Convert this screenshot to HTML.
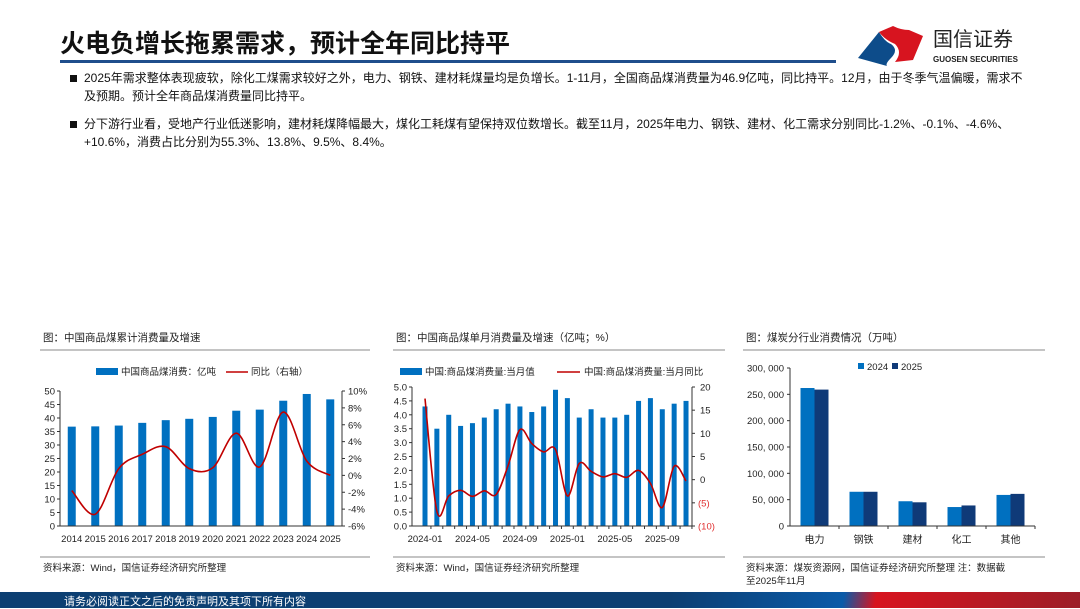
<!DOCTYPE html>
<html><head><meta charset="utf-8">
<style>
body{margin:0;width:1080px;height:608px;overflow:hidden;background:#fff;font-family:"Liberation Sans","Noto Sans CJK SC",sans-serif;}
svg text{font-family:"Liberation Sans","Noto Sans CJK SC",sans-serif;}
.p{position:absolute;left:84px;font-size:12px;line-height:18px;color:#111;width:950px;}
.b{position:absolute;left:70px;width:7px;height:7px;background:#111;}
</style></head><body>
<div style="position:relative;width:1080px;height:608px">
<div style="position:absolute;left:60px;top:24px;font-size:25px;font-weight:bold;color:#111;font-family:'Liberation Sans','Noto Sans CJK SC',sans-serif">火电负增长拖累需求，预计全年同比持平</div>
<div style="position:absolute;left:60px;top:60px;width:776px;height:3px;background:#1f4e8c"></div>
<svg style="position:absolute;left:855px;top:22px" width="180" height="46">
<path d="M3 36 L24 10 Q30 20 36 22 Q44 28 36 36 Q30 42 32 44 Z" fill="#0d4c8a"/>
<path d="M24 10 L38 4 Q46 8 54 8 L68 14 L58 38 L40 40 Q48 30 40 22 Q30 18 24 10Z" fill="#d7141f"/>
<text x="78" y="24" font-size="20" fill="#222">国信证券</text>
<text x="78" y="40" font-size="8" font-weight="bold" fill="#222">GUOSEN SECURITIES</text>
</svg>
<div class="b" style="top:75px"></div>
<div class="p" style="top:69px">2025年需求整体表现疲软，除化工煤需求较好之外，电力、钢铁、建材耗煤量均是负增长。1-11月，全国商品煤消费量为46.9亿吨，同比持平。12月，由于冬季气温偏暖，需求不及预期。预计全年商品煤消费量同比持平。</div>
<div class="b" style="top:121px"></div>
<div class="p" style="top:115px">分下游行业看，受地产行业低迷影响，建材耗煤降幅最大，煤化工耗煤有望保持双位数增长。截至11月，2025年电力、钢铁、建材、化工需求分别同比-1.2%、-0.1%、-4.6%、+10.6%，消费占比分别为55.3%、13.8%、9.5%、8.4%。</div>
<svg id="c" width="1080" height="608" style="position:absolute;left:0;top:0"></svg>
<div style="position:absolute;left:0;top:592px;width:1080px;height:16px;background:linear-gradient(100deg,#0c3f72 0%,#0c3f72 62%,#0a5aa8 78%,#d7141f 81%,#9c1e28 100%)"></div>
<div style="position:absolute;left:64px;top:593px;font-size:11px;color:#fff">请务必阅读正文之后的免责声明及其项下所有内容</div>
</div>
<script>
const years=['2014','2015','2016','2017','2018','2019','2020','2021','2022','2023','2024','2025'];
const annualVol=[36.8,36.9,37.2,38.2,39.2,39.7,40.4,42.7,43.1,46.4,48.9,46.9];
const annualYoy=[-1.8,-4.6,0.8,2.5,3.4,0.8,0.9,5.0,1.0,7.5,1.7,0.0];
const months=['2024-01','2024-02','2024-03','2024-04','2024-05','2024-06','2024-07','2024-08','2024-09','2024-10','2024-11','2024-12','2025-01','2025-02','2025-03','2025-04','2025-05','2025-06','2025-07','2025-08','2025-09','2025-10','2025-11'];
const monthVol=[4.3,3.5,4.0,3.6,3.7,3.9,4.2,4.4,4.3,4.1,4.3,4.9,4.6,3.9,4.2,3.9,3.9,4.0,4.5,4.6,4.2,4.4,4.5];
const monthYoy=[17.5,-6.8,-3.5,-2.3,-3.6,-2.4,-3.2,3.0,10.8,7.8,6.0,6.5,-3.5,3.5,1.8,0.6,1.3,0.5,2.0,-0.8,-6.0,2.9,-0.3];
const sectors=['电力','钢铁','建材','化工','其他'];
const sec2024=[262000,65000,47000,36000,59000];
const sec2025=[259000,65000,45000,39000,61000];
const leftTicks1=[0,5,10,15,20,25,30,35,40,45,50];
const rightTicks1=[-6,-4,-2,0,2,4,6,8,10];
const leftTicks2=[0,0.5,1,1.5,2,2.5,3,3.5,4,4.5,5];
const rightTicks2=[-10,-5,0,5,10,15,20];
const ticks3=[0,50000,100000,150000,200000,250000,300000];

const S=document.getElementById('c');const NS='http://www.w3.org/2000/svg';
function el(t,a,txt){const e=document.createElementNS(NS,t);for(const k in a)e.setAttribute(k,a[k]);if(txt!==undefined)e.textContent=txt;S.appendChild(e);return e;}
function smooth(p){let d='M'+p[0][0]+' '+p[0][1];for(let i=0;i<p.length-1;i++){const p0=p[i-1]||p[i],p1=p[i],p2=p[i+1],p3=p[i+2]||p2;d+=' C'+(p1[0]+(p2[0]-p0[0])/6)+' '+(p1[1]+(p2[1]-p0[1])/6)+' '+(p2[0]-(p3[0]-p1[0])/6)+' '+(p2[1]-(p3[1]-p1[1])/6)+' '+p2[0]+' '+p2[1];}return d;}
function frame(x1,x2,title,src,src2){
 let t=el('text',{x:x1+3,y:341,'font-size':10.5,fill:'#222'},title);
 let l=el('line',{x1:x1,x2:x2,y1:350,y2:350,stroke:'#888','stroke-width':1});
 l=el('line',{x1:x1,x2:x2,y1:557,y2:557,stroke:'#888','stroke-width':1});
 t=el('text',{x:x1+3,y:571,'font-size':9.5,fill:'#222'},src);
 if(src2){t=el('text',{x:x1+3,y:584,'font-size':9.5,fill:'#222'},src2);}
}
frame(40,370,'图：中国商品煤累计消费量及增速','资料来源：Wind，国信证券经济研究所整理');
frame(393,725,'图：中国商品煤单月消费量及增速（亿吨；%）','资料来源：Wind，国信证券经济研究所整理');
frame(743,1045,'图：煤炭分行业消费情况（万吨）','资料来源：煤炭资源网，国信证券经济研究所整理 注：数据截','至2025年11月');

// chart 1
(function(){const L=60,R=342,T=391,B=526;
 const y=v=>B-(v/50)*(B-T), y2=v=>B-((v+6)/16)*(B-T), step=(R-L)/12, x=i=>L+step*(i+0.5);
 leftTicks1.forEach(v=>{let t=el('text',{x:L-5,y:y(v)+3.5,'font-size':9.5,'text-anchor':'end',fill:'#222'},v);el('line',{x1:L-3,x2:L,y1:y(v),y2:y(v),stroke:'#333'});});
 rightTicks1.forEach(v=>{let t=el('text',{x:R+6,y:y2(v)+3.5,'font-size':9.5,fill:'#222'},v+'%');el('line',{x1:R,x2:R+3,y1:y2(v),y2:y2(v),stroke:'#333'});});
 annualVol.forEach((v,i)=>{let r=el('rect',{x:x(i)-4,y:y(v),width:8,height:B-y(v),fill:'#0070c0'});
  let t=el('text',{x:x(i),y:B+16,'font-size':9.5,'text-anchor':'middle',fill:'#222'},years[i]);});
 el('line',{x1:L,x2:L,y1:T,y2:B,stroke:'#333'});el('line',{x1:R,x2:R,y1:T,y2:B,stroke:'#333'});el('line',{x1:L,x2:R,y1:B,y2:B,stroke:'#333'});
 let p=el('path',{d:smooth(annualYoy.map((v,i)=>[x(i),y2(v)])),fill:'none',stroke:'#c00000','stroke-width':1.6});
 let r=el('rect',{x:96,y:368,width:22,height:7,fill:'#0070c0'});
 el('text',{x:121,y:375,'font-size':9.5,fill:'#222'},'中国商品煤消费：亿吨');
 let l=el('line',{x1:226,x2:248,y1:372,y2:372,stroke:'#c00000','stroke-width':1.6});
 el('text',{x:251,y:375,'font-size':9.5,fill:'#222'},'同比（右轴）');
})();
// chart 2
(function(){const L=412,R=692,T=387,B=526;
 const y=v=>B-(v/5)*(B-T), y2=v=>B-((v+10)/30)*(B-T), step=(R-L)/23.6, x=i=>L+13+step*i;
 leftTicks2.forEach(v=>{let t=el('text',{x:L-5,y:y(v)+3.5,'font-size':9.5,'text-anchor':'end',fill:'#222'},v.toFixed(1));el('line',{x1:L-3,x2:L,y1:y(v),y2:y(v),stroke:'#333'});});
 rightTicks2.forEach(v=>{let neg=v<0;let t=el('text',{x:R+(neg?6:8),y:y2(v)+3.5,'font-size':9.5,fill:neg?'#e03030':'#222'},neg?'('+(-v)+')':v);el('line',{x1:R,x2:R+3,y1:y2(v),y2:y2(v),stroke:'#333'});});
 monthVol.forEach((v,i)=>{let r=el('rect',{x:x(i)-2.5,y:y(v),width:5,height:B-y(v),fill:'#0070c0'});
  if(i%4==0){let t=el('text',{x:x(i),y:B+16,'font-size':9.5,'text-anchor':'middle',fill:'#222'},months[i]);}
  el('line',{x1:x(i)+step/2,x2:x(i)+step/2,y1:B,y2:B+3,stroke:'#333'});});
 el('line',{x1:L,x2:L,y1:T,y2:B,stroke:'#333'});el('line',{x1:R,x2:R,y1:T,y2:B,stroke:'#333'});el('line',{x1:L,x2:R,y1:B,y2:B,stroke:'#333'});
 let p=el('path',{d:smooth(monthYoy.map((v,i)=>[x(i),y2(v)])),fill:'none',stroke:'#c00000','stroke-width':1.6});
 let r=el('rect',{x:400,y:368,width:22,height:7,fill:'#0070c0'});
 el('text',{x:425,y:375,'font-size':9.5,fill:'#222'},'中国:商品煤消费量:当月值');
 let l=el('line',{x1:557,x2:580,y1:372,y2:372,stroke:'#c00000','stroke-width':1.6});
 el('text',{x:584,y:375,'font-size':9.5,fill:'#222'},'中国:商品煤消费量:当月同比');
})();
// chart 3
(function(){const L=790,R=1035,T=368,B=526;
 const y=v=>B-(v/300000)*(B-T), step=(R-L)/5, x=i=>L+step*(i+0.5);
 ticks3.forEach(v=>{let t=el('text',{x:L-6,y:y(v)+3.5,'font-size':9.5,'text-anchor':'end',fill:'#222'},v==0?'0':v.toLocaleString('en-US').replace(',',', '));el('line',{x1:L-3,x2:L,y1:y(v),y2:y(v),stroke:'#333'});});
 sectors.forEach((s,i)=>{let r=el('rect',{x:x(i)-14,y:y(sec2024[i]),width:14,height:B-y(sec2024[i]),fill:'#0070c0'});
  r=el('rect',{x:x(i),y:y(sec2025[i]),width:14,height:B-y(sec2025[i]),fill:'#0f3a78'});
  let t=el('text',{x:x(i),y:B+17,'font-size':10,'text-anchor':'middle',fill:'#222'},s);
  el('line',{x1:L+step*(i+1),x2:L+step*(i+1),y1:B,y2:B+3,stroke:'#333'});});
 el('line',{x1:L,x2:L,y1:T,y2:B,stroke:'#333'});el('line',{x1:L,x2:R,y1:B,y2:B,stroke:'#333'});
 let r=el('rect',{x:858,y:363,width:6,height:6,fill:'#0070c0'});
 el('text',{x:867,y:370,'font-size':9.5,fill:'#222'},'2024');
 r=el('rect',{x:892,y:363,width:6,height:6,fill:'#0f3a78'});
 el('text',{x:901,y:370,'font-size':9.5,fill:'#222'},'2025');
})();
</script>
</body></html>
